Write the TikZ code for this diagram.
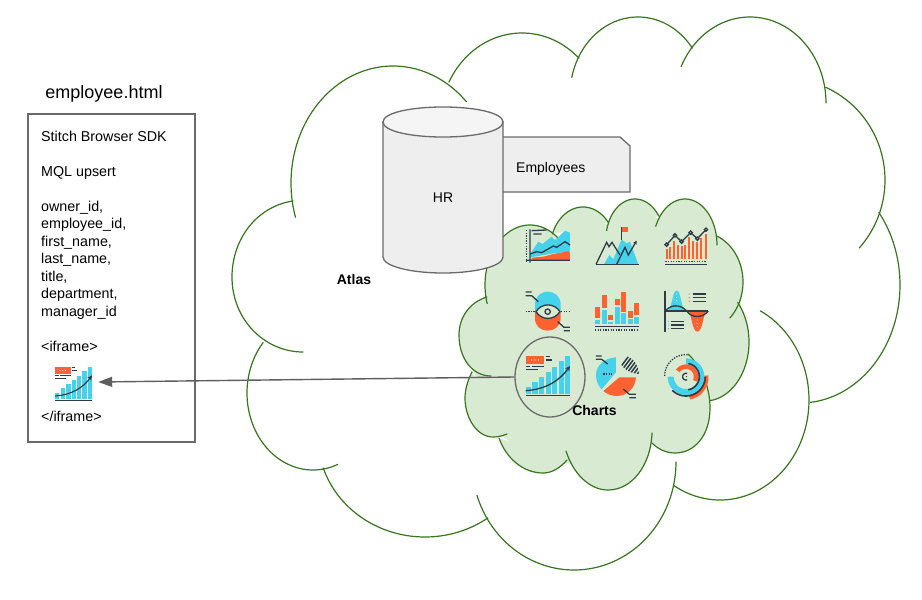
\documentclass[tikz,border=0pt]{standalone}
\usepackage{fontspec}
\setmainfont{Liberation Sans}
\usetikzlibrary{arrows.meta,shapes.geometric}
\definecolor{cloudgreen}{HTML}{38761D}
\definecolor{cloudfill}{HTML}{D9EAD3}
\definecolor{boxgray}{HTML}{6A6A6A}
\definecolor{shapefill}{HTML}{EEEEEE}
\definecolor{shapetop}{HTML}{F5F5F5}
\definecolor{icy}{HTML}{45D2EA}
\definecolor{ior}{HTML}{FF6231}
\definecolor{idk}{HTML}{2F3B47}
\tikzset{
  cloudline/.style={draw=cloudgreen,line width=1.2pt,line cap=round},
  grayline/.style={draw=boxgray,line width=1.3pt},
  txt/.style={font=\fontsize{14}{17.5}\selectfont,inner sep=0pt,text=black},
  pagetxt/.style={font=\fontsize{14.3}{17.5}\selectfont,inner sep=0pt,text=black},
  boldtxt/.style={font=\fontsize{14}{17.5}\selectfont\bfseries,inner sep=0pt,text=black},
  dk/.style={draw=idk,line width=1.3pt},
  dotl/.style={draw=idk,line width=1.3pt,dash pattern=on 1.3pt off 1.3pt},
}
% small-cloud arcs
\def\sa{plot[domain=162:308,samples=60]({530+45*cos(\x)},{285+60*sin(\x)})}
\def\sb{plot[domain=202:321,samples=60]({583+33*cos(\x)},{250+43*sin(\x)})}
\def\sc{plot[domain=192:325,samples=60]({635+29*cos(\x)},{239+40*sin(\x)})}
\def\sd{plot[domain=204:360,samples=60]({685+32*cos(\x)},{245+46*sin(\x)})}
\def\se{plot[domain=-67:46,samples=60]({700+43*cos(\x)},{282+50*sin(\x)})}
\def\sf{plot[domain=-42:84,samples=60]({705+44*cos(\x)},{342+59*sin(\x)})}
\def\sg{(688,354) .. controls (700,365) and (710,385) .. (710,408) .. controls (710,435) and (695,453) .. (675,453) .. controls (666,453) and (658,449) .. (652,443)}
\def\sh{(652,433) .. controls (651,465) and (632,490) .. (608,490) .. controls (589,490) and (573,473) .. (566,451)}
\def\si{(567,460) .. controls (560,468) and (552,473) .. (543,473) .. controls (523,473) and (506,458) .. (499,438)}
\def\sj{(507,434) .. controls (502,436) and (498,437) .. (493,437) .. controls (477,437) and (465,418) .. (465,398) .. controls (465,389) and (468,380) .. (472,372)}
\def\sk{(491,376) .. controls (472,376) and (459,358) .. (459,335) .. controls (459,317) and (470,302) .. (487,297)}
% growth-chart icon, drawn twice
\newcommand\icongrowth[4]{\begin{scope}[shift={(#1,#2)},x=#3pt,y=-#3pt]
  \foreach \a/\b/\t in {47/63/290,67/83/275,87/103/260,107/122/245,126/142/230,146/161/213,165/180/198}
    \fill[icy] (\a,\t) rectangle (\b,312);
  \draw[draw=idk,line width=#4pt] (47,317)--(180,317);
  \draw[draw=idk,line width=#4pt,-{Stealth[length=5pt,width=5pt]}] (47,302) .. controls (110,298) and (150,270) .. (180,228);
  \fill[ior] (47,198) rectangle (103,222);
  \foreach \p in {65,75,85} \fill[white] (\p,210) circle (2.2);
  \draw[draw=idk,line width=#4pt] (107,199)--(120,199) (107,210)--(125,210) (47,230)--(60,230) (65,230)--(103,230) (47,239)--(85,239);
\end{scope}}
\begin{document}
\begin{tikzpicture}[x=1pt,y=-1pt]
\useasboundingbox (0,0) rectangle (922,600);
\fill[white] (0,0) rectangle (922,600);
% big cloud
\draw[cloudline] plot[domain=163:316,samples=80]({393+102*cos(\x)},{183+117*sin(\x)});
\draw[cloudline] plot[domain=207:314,samples=60]({522+82*cos(\x)},{123+90*sin(\x)});
\draw[cloudline] plot[domain=193:323,samples=60]({638+68*cos(\x)},{95+78*sin(\x)});
\draw[cloudline] plot[domain=205:360,samples=80]({750+76*cos(\x)},{103+86*sin(\x)});
\draw[cloudline] plot[domain=-66:42,samples=60]({785+100*cos(\x)},{180+101.5*sin(\x)});
\draw[cloudline] plot[domain=-38:84,samples=60]({800+100*cos(\x)},{285+118*sin(\x)});
\draw[cloudline] plot[domain=-63:121,samples=90]({720+89*cos(\x)},{400+100*sin(\x)});
\draw[cloudline] plot[domain=0:162,samples=80]({574+102*cos(\x)},{462+108*sin(\x)});
\draw[cloudline] plot[domain=54:162,samples=60]({425+107*cos(\x)},{437+100*sin(\x)});
\draw[cloudline] plot[domain=68:221,samples=80]({313+66*cos(\x)},{393+77*sin(\x)});
\draw[cloudline] (303,352) .. controls (265,352) and (232,320) .. (232,277) .. controls (232,238) and (258,206) .. (293,201);
\node[boldtxt] (atlas) at (354,279) {Atlas};
% employees collection
\draw[grayline,fill=shapefill] (495,137) -- (620,137) -- (630,146) -- (630,192) -- (495,192) -- cycle;
\node[txt,anchor=west] (employees) at (516,169) {Employees};
% small cloud
\fill[cloudfill] (487,297) -- (505,240) -- (530,230) -- (557,238) -- (583,215) -- (610,226) -- (635,205) -- (660,220) -- (685,205) -- (715,240) -- (738,280) -- (745,340) -- (708,402) -- (705,420) -- (675,448) -- (650,443) -- (610,485) -- (568,463) -- (543,468) -- (501,435) -- (470,400) -- (475,375) -- (465,340) -- cycle;
\foreach \c in {\sa,\sb,\sc,\sd,\se,\sf,\sg,\sh,\si,\sj,\sk} {\fill[cloudfill] \c -- cycle;}
\foreach \c in {\sa,\sb,\sc,\sd,\se,\sf,\sg,\sh,\si,\sj,\sk} {\draw[cloudline] \c;}
% database
\draw[grayline,fill=shapefill] (383,122) -- (383,257) .. controls (383,266) and (410,273) .. (443,273) .. controls (476,273) and (503,266) .. (503,257) -- (503,122) -- cycle;
\draw[grayline,fill=shapetop] (383,122) .. controls (383,113) and (410,107) .. (443,107) .. controls (476,107) and (503,113) .. (503,122) .. controls (503,131) and (476,137) .. (443,137) .. controls (410,137) and (383,131) .. (383,122) -- cycle;
\node[txt] (hr) at (443,198) {HR};
% icon 1: area chart
\begin{scope}[shift={(510,210)},x=.3333pt,y=-.3333pt]
  \fill[icy] (62,130) -- (85,95) -- (97,102) -- (125,80) -- (135,90) -- (165,62) -- (180,68) -- (180,125) -- (130,130) -- (62,142) -- cycle;
  \fill[ior] (65,150) -- (65,143) -- (100,140) -- (130,132) -- (175,124) -- (180,128) -- (180,150) -- cycle;
  \draw[dk] (60,132) -- (80,125) -- (95,128) -- (130,108) -- (140,112) -- (165,95) -- (180,105);
  \draw[dk] (60,58) -- (60,158) (48,151) -- (180,151) (65,62) -- (110,60) (70,72) -- (95,72);
  \draw[dotl] (50,60) -- (50,155);
\end{scope}
% icon 2: mountain
\begin{scope}[shift={(510,210)},x=.3333pt,y=-.3333pt]
  \fill[icy] (282,163) -- (298,135) -- (310,148) -- (335,88) -- (350,100) -- (360,95) -- (385,163) -- cycle;
  \fill[ior] (335,52) rectangle (353,66);
  \draw[dk] (335,50) -- (335,90);
  \draw[dk] (258,163) -- (290,97) -- (297,110) -- (306,97) -- (330,135);
  \draw[dk] (258,163) -- (388,163);
  \draw[dk,-{Stealth[length=4pt,width=4pt]}] (320,163) -- (345,112) -- (355,135) -- (380,92);
\end{scope}
% icon 3: line over bars
\begin{scope}[shift={(510,210)},x=.3333pt,y=-.3333pt]
  \foreach \p/\t in {470/118,481/112,492/92,505/105,516/108,525/105,536/82,548/92,560/95,572/85,588/72}
    \fill[ior] (\p-3,\t) rectangle (\p+3,148);
  \draw[dotl] (466,155) -- (590,155);
  \draw[dk] (466,163) -- (590,163);
  \draw[dk] (470,104) -- (495,76) -- (515,95) -- (542,68) -- (562,86) -- (588,59);
  \foreach \p/\t in {470/104,495/76,515/95,542/68,562/86,588/59} \draw[dk,fill=cloudfill] (\p,\t) circle (5);
\end{scope}
% icon 4: eye
\begin{scope}[shift={(510,290)},x=.3333pt,y=-.3333pt]
  \fill[icy] (75,65) -- (75,43) .. controls (75,20) and (92,5) .. (113,5) .. controls (134,5) and (152,20) .. (152,43) -- (152,65) -- cycle;
  \fill[ior] (75,65) -- (75,85) .. controls (75,108) and (92,122) .. (113,122) .. controls (134,122) and (152,108) .. (152,85) -- (152,65) -- cycle;
  \draw[dk,fill=cloudfill] (78,65) .. controls (95,38) and (132,38) .. (150,65) .. controls (132,92) and (95,92) .. (78,65) -- cycle;
  \draw[dk] (113,65) circle (8);
  \draw[dotl] (47,65) -- (75,65) (153,65) -- (180,65);
  \draw[dk] (47,6) -- (65,6) (47,17) -- (65,17) -- (85,35) (143,95) -- (162,112) -- (180,112) (162,122) -- (180,122);
\end{scope}
% icon 5: stacked bars
\begin{scope}[shift={(510,290)},x=.3333pt,y=-.3333pt]
  \foreach \a/\b/\c/\d/\e in {255/271/90/52/84,275/290/60/15/55,294/310/95/75/90,314/330/50/27/45,333/349/70/5/65,353/369/88/62/83,373/387/82/38/76} {
    \fill[icy] (\a,\c) rectangle (\b,103);
    \fill[ior] (\a,\d) rectangle (\b,\e);
  }
  \draw[dk] (255,110) -- (387,110);
  \draw[dotl] (255,120) -- (387,120);
\end{scope}
% icon 6: wave
\begin{scope}[shift={(510,290)},x=.3333pt,y=-.3333pt]
  \fill[icy] (472,63) .. controls (488,55) and (486,2) .. (500,2) .. controls (514,2) and (512,55) .. (527,63) -- cycle;
  \fill[ior] (535,63) .. controls (545,70) and (546,125) .. (562,125) .. controls (578,125) and (580,70) .. (590,63) -- cycle;
  \foreach \t in {12,22,32} \fill[white] (500,\t) circle (1.6);
  \foreach \t in {90,100,110} \fill[white] (562,\t) circle (1.6);
  \draw[dk] (465,2) -- (465,125) (465,63) -- (595,63);
  \draw[dk] (465,65) .. controls (480,42) and (512,42) .. (530,63) .. controls (545,85) and (578,85) .. (595,63);
  \foreach \t in {12,23,34} {\draw[dk] (548,\t) -- (587,\t); \fill[ior] (538,\t) circle (2);}
  \foreach \t in {94,105,116} {\draw[dk] (483,\t) -- (523,\t); \fill[icy] (475,\t) circle (2);}
\end{scope}
% icon 7: growth chart
\icongrowth{510}{290}{.3333}{1.3}
% icon 8: pie
\begin{scope}[shift={(510,290)},x=.3333pt,y=-.3333pt]
  \fill[icy] (318,202) .. controls (285,204) and (258,225) .. (258,255) .. controls (258,273) and (265,288) .. (275,298) -- (318,247) -- cycle;
  \fill[ior] (328,262) -- (378,262) .. controls (376,295) and (350,318) .. (320,318) .. controls (305,318) and (290,312) .. (280,303) -- cycle;
  \begin{scope}
    \clip (325,195) .. controls (370,195) and (385,225) .. (387,252) .. controls (350,250) and (325,225) .. (325,195) -- cycle;
    \foreach \k in {0,11,...,110} \draw[draw=idk,line width=1.5pt] (310+\k,260) -- (370+\k,180);
  \end{scope}
  \draw[dotl] (280,252) -- (305,252);
  \draw[dk] (258,198) -- (275,198) (258,208) -- (275,208) -- (293,222) (340,297) -- (358,313) -- (378,313) (358,323) -- (378,323);
\end{scope}
% icon 9: rings
\begin{scope}[shift={(510,290)},x=.3333pt,y=-.3333pt]
  \draw[dotl] plot[domain=180:275,samples=25]({528+64*cos(\x)},{258+64*sin(\x)});
  \draw[draw=ior,line width=5pt] plot[domain=-5:80,samples=25]({528+60*cos(\x)},{262+60*sin(\x)});
  \draw[draw=icy,line width=6pt] plot[domain=-90:180,samples=70]({528+46*cos(\x)},{260+46*sin(\x)});
  \draw[draw=ior,line width=4.5pt] plot[domain=-145:25,samples=40]({528+30*cos(\x)},{260+30*sin(\x)});
  \draw[draw=idk,line width=1.6pt] plot[domain=-80:80,samples=30]({528+40*cos(\x)},{260+40*sin(\x)});
  \draw[draw=idk,line width=1.6pt] plot[domain=0:135,samples=30]({528+58*cos(\x)},{260+58*sin(\x)});
  \draw[draw=idk,line width=1.3pt] plot[domain=70:290,samples=20]({528+10*cos(\x)},{260+10*sin(\x)});
  \fill[idk] (530,260) circle (2);
\end{scope}
% selection ellipse and charts label
\node[draw=boxgray,line width=1.3pt,ellipse,inner sep=0pt,minimum width=70pt,minimum height=80pt] (sel) at (550,377) {};
\node[boldtxt] (charts) at (594.5,410.5) {Charts};
% page box
\node[grayline,fill=white,rectangle,inner sep=0pt,minimum width=167pt,minimum height=328pt] (page) at (111.5,278) {};
\node[inner sep=0pt,font=\fontsize{18}{22}\selectfont,text=black] (title) at (104,93.5) {employee.html};
\node[pagetxt,anchor=north west,align=left] (pagetext) at (41,130.5) {Stitch Browser SDK\\[17.5pt]MQL upsert\\[17.5pt]owner\_id,\\employee\_id,\\first\_name,\\last\_name,\\title,\\department,\\manager\_id\\[17.5pt]<iframe>\\[52.5pt]</iframe>};
\node[inner sep=0pt,minimum width=49pt,minimum height=34pt] (embed) at (73.5,382) {};
\icongrowth{41.9}{312}{.278}{1.1}
% connector
\draw[draw=boxgray!90!black,line width=1.4pt,-{Triangle[length=14pt,width=10pt]}] (sel.west) -- (embed.east);
\end{tikzpicture}
\end{document}
